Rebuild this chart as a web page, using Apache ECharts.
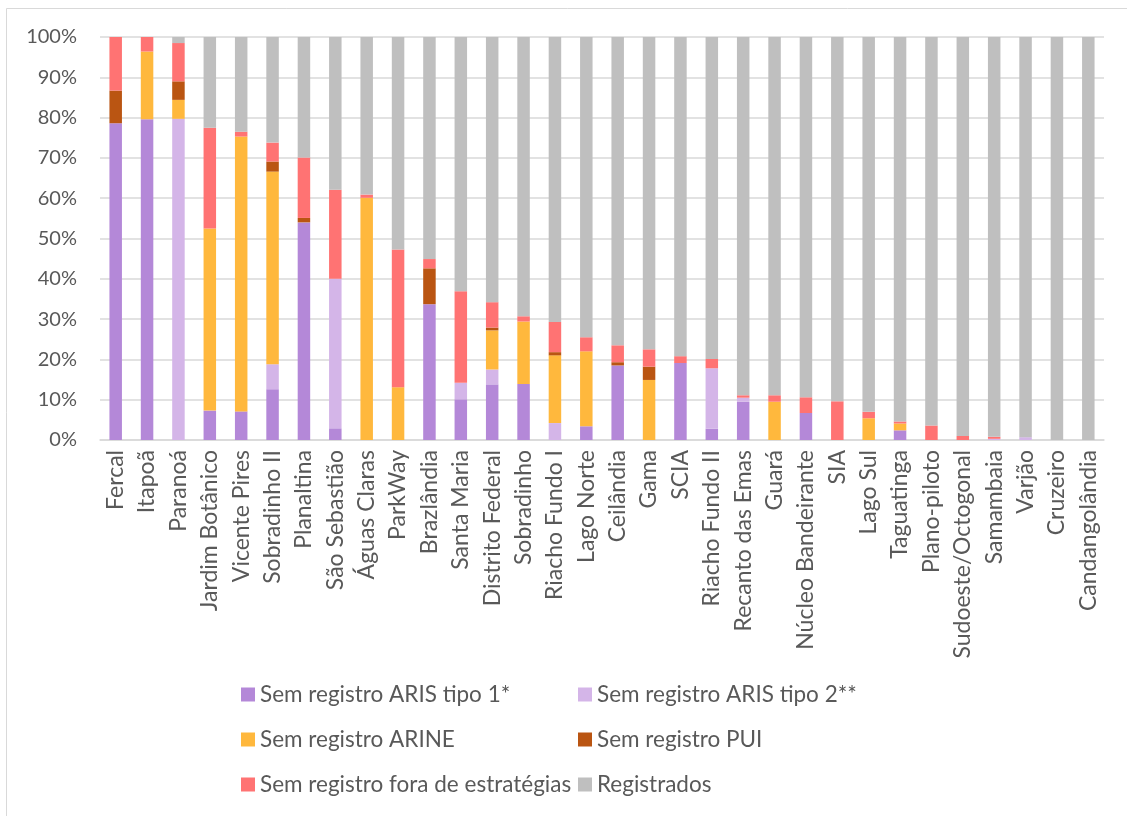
<!DOCTYPE html>
<html>
<head>
<meta charset="utf-8">
<script src="https://cdn.jsdelivr.net/npm/echarts@6/dist/echarts.min.js"></script>
<style>
  html, body { margin: 0; padding: 0; background: #fff; }
  #chart { width: 1127px; height: 816px; }
</style>
</head>
<body>
<div id="chart"></div>
<script>
// Regiões administrativas (ordenadas pela proporção sem registro)
const categories = ['Fercal','Itapoã','Paranoá','Jardim Botânico','Vicente Pires','Sobradinho II','Planaltina','São Sebastião','Águas Claras','ParkWay','Brazlândia','Santa Maria','Distrito Federal','Sobradinho','Riacho Fundo I','Lago Norte','Ceilândia','Gama','SCIA','Riacho Fundo II','Recanto das Emas','Guará','Núcleo Bandeirante','SIA','Lago Sul','Taguatinga','Plano-piloto','Sudoeste/Octogonal','Samambaia','Varjão','Cruzeiro','Candangolândia'];

// Percentuais por categoria de registro
const arisTipo1 = [78.6,79.6,0,7.3,7.1,12.6,54.0,2.9,0,0,33.7,10.1,13.8,13.9,0,3.4,18.5,0,19.1,2.8,9.5,0,6.7,0,0,2.4,0,0,0,0,0,0];
const arisTipo2 = [0,0,79.7,0,0,6.2,0,37.1,0,0,0,4.1,3.7,0,4.2,0,0,0,0,15.0,1.0,0,0,0,0,0,0,0,0.3,0.7,0,0];
const arine     = [0,16.8,4.7,45.2,68.2,47.8,0,0,60.1,13.1,0,0,9.7,15.5,16.8,18.6,0,14.9,0,0,0,9.5,0,0,5.4,1.7,0,0,0,0,0,0];
const pui       = [8.1,0,4.6,0,0,2.5,1.1,0,0,0,8.9,0,0.7,0,0.8,0,0.8,3.3,0,0,0,0,0,0,0,0,0,0,0,0,0,0];
const foraEstr  = [13.3,3.6,9.5,25.0,1.2,4.7,15.0,22.1,0.8,34.2,2.3,22.7,6.3,1.3,7.5,3.5,4.2,4.3,1.7,2.3,0.6,1.6,3.9,9.6,1.6,0.5,3.6,1.0,0.5,0,0,0];
const registrados = [0,0,1.5,22.5,23.5,26.2,29.9,37.9,39.1,52.7,55.1,63.1,65.8,69.3,70.7,74.5,76.5,77.5,79.2,79.9,88.9,88.9,89.4,90.4,93.0,95.4,96.4,99.0,99.2,99.3,100,100];

const yTicks = { min: 0, max: 100, interval: 10 };

const seriesDefs = [
  { name: 'Sem registro ARIS tipo 1*', data: arisTipo1, color: '#B488D8' },
  { name: 'Sem registro ARIS tipo 2**', data: arisTipo2, color: '#D4B5E8' },
  { name: 'Sem registro ARINE', data: arine, color: '#FFB83D' },
  { name: 'Sem registro PUI', data: pui, color: '#BA5512' },
  { name: 'Sem registro fora de estratégias', data: foraEstr, color: '#FF7373' },
  { name: 'Registrados', data: registrados, color: '#BFBFBF' }
];

const FONT = 'Lato';
const TEXT = '#595959';

// Legenda em duas colunas, três linhas
const legendPos = [
  [236, 678], [573, 678],
  [236, 723], [573, 723],
  [236, 768], [573, 768]
];

const chart = echarts.init(document.getElementById('chart'), null, { renderer: 'canvas' });

chart.setOption({
  backgroundColor: '#fff',
  animation: false,
  textStyle: { fontFamily: FONT },
  graphic: [{
    type: 'rect',
    shape: { x: 6.5, y: 8.5, width: 1200, height: 900 },
    style: { fill: 'none', stroke: '#D9D9D9', lineWidth: 1 },
    silent: true
  }],
  grid: { left: 100, right: 23, top: 37, bottom: 376, containLabel: false },
  legend: seriesDefs.map((s, i) => ({
    data: [s.name],
    left: legendPos[i][0],
    top: legendPos[i][1],
    itemWidth: 14,
    itemHeight: 14,
    icon: 'rect',
    selectedMode: false,
    textStyle: { fontFamily: FONT, fontSize: 22.5, color: TEXT }
  })),
  xAxis: {
    type: 'category',
    data: categories,
    axisTick: { show: false },
    axisLine: { lineStyle: { color: '#D9D9D9', width: 1.5 } },
    axisLabel: {
      rotate: 90,
      interval: 0,
      margin: 10,
      color: TEXT,
      fontFamily: FONT,
      fontSize: 23
    }
  },
  yAxis: {
    type: 'value',
    min: yTicks.min,
    max: yTicks.max,
    interval: yTicks.interval,
    axisLine: { show: false },
    axisTick: { show: false },
    splitLine: { lineStyle: { color: '#D9D9D9', width: 1.5 } },
    axisLabel: {
      formatter: '{value}%',
      margin: 23,
      color: TEXT,
      fontFamily: FONT,
      fontSize: 20
    }
  },
  series: seriesDefs.map(s => ({
    name: s.name,
    type: 'bar',
    stack: 'total',
    data: s.data,
    barWidth: 12.5,
    itemStyle: { color: s.color },
    emphasis: { disabled: true }
  }))
});
</script>
</body>
</html>
